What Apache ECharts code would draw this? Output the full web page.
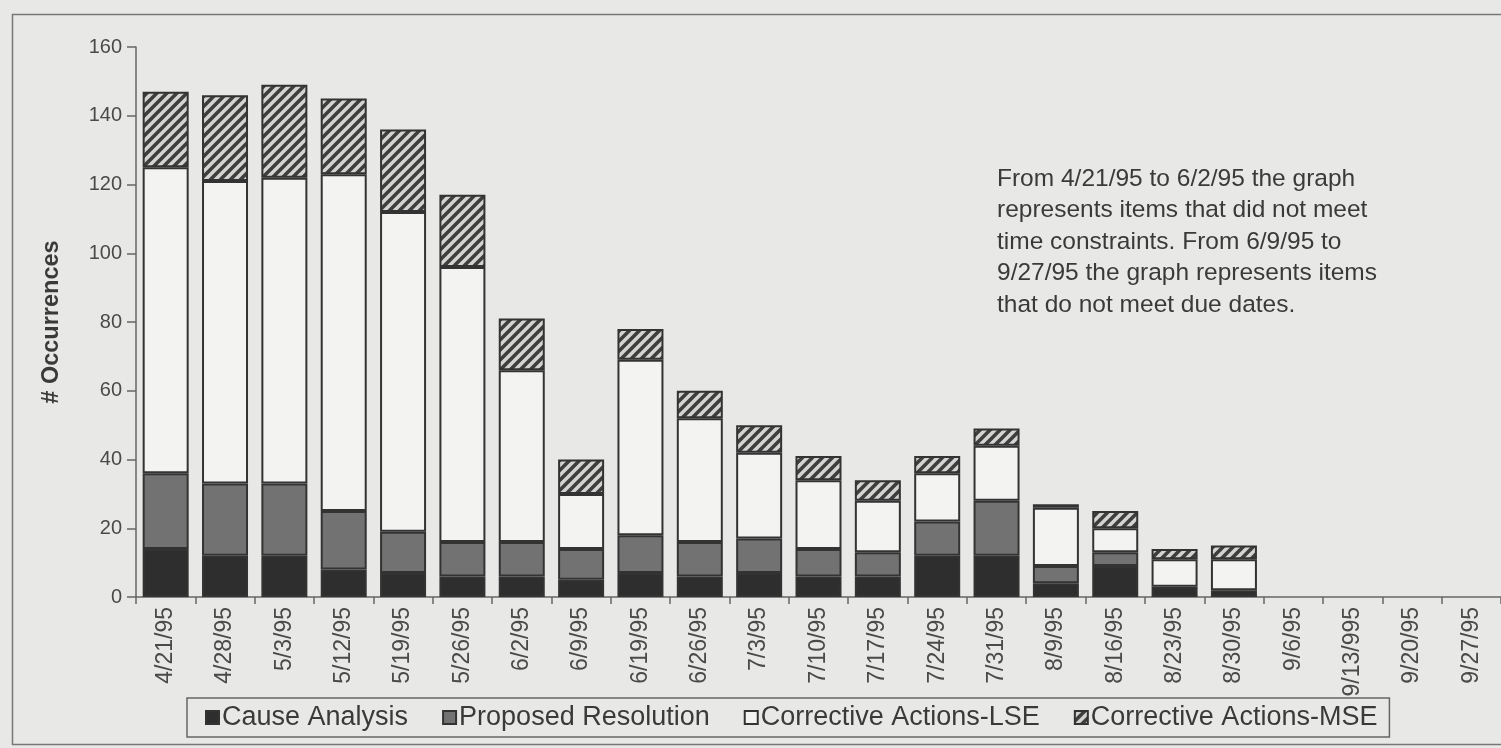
<!DOCTYPE html>
<html>
<head>
<meta charset="utf-8">
<script src="https://cdn.jsdelivr.net/npm/echarts@6/dist/echarts.min.js"></script>
<style>
  html, body { margin: 0; padding: 0; background: #e8e8e6; }
  #chart { width: 1501px; height: 748px; }
</style>
</head>
<body>
<div id="chart"></div>
<script>
// ---- data ----
const categories = ['4/21/95','4/28/95','5/3/95','5/12/95','5/19/95','5/26/95','6/2/95','6/9/95','6/19/95','6/26/95','7/3/95','7/10/95','7/17/95','7/24/95','7/31/95','8/9/95','8/16/95','8/23/95','8/30/95','9/6/95','9/13/995','9/20/95','9/27/95'];
const causeAnalysis      = [14,12,12, 8, 7, 6, 6, 5, 7, 6, 7, 6, 6,12,12, 4, 9, 3, 2, 0, 0, 0, 0];
const proposedResolution = [22,21,21,17,12,10,10, 9,11,10,10, 8, 7,10,16, 5, 4, 0, 0, 0, 0, 0, 0];
const correctiveLSE      = [89,88,89,98,93,80,50,16,51,36,25,20,15,14,16,17, 7, 8, 9, 0, 0, 0, 0];
const correctiveMSE      = [22,25,27,22,24,21,15,10, 9, 8, 8, 7, 6, 5, 5, 1, 5, 3, 4, 0, 0, 0, 0];
const seriesNames = ['Cause Analysis','Proposed Resolution','Corrective Actions-LSE','Corrective Actions-MSE'];
const yTicks = { min: 0, max: 160, interval: 20 };
const yTitle = '# Occurrences';
const note = 'From 4/21/95 to 6/2/95 the graph\nrepresents items that did not meet\ntime constraints. From 6/9/95 to\n9/27/95 the graph represents items\nthat do not meet due dates.';

// ---- styling helpers ----
function hatch() {
  const c = document.createElement('canvas');
  c.width = 10; c.height = 10;
  const g = c.getContext('2d');
  g.fillStyle = '#d4d4d2'; g.fillRect(0, 0, 10, 10);
  g.strokeStyle = '#3e3e3e'; g.lineWidth = 3.6; g.lineCap = 'square';
  g.beginPath();
  g.moveTo(-2, 2); g.lineTo(2, -2);
  g.moveTo(0, 10); g.lineTo(10, 0);
  g.moveTo(8, 12); g.lineTo(12, 8);
  g.stroke();
  return { image: c, repeat: 'repeat' };
}
const nz = arr => arr.map(v => v === 0 ? '-' : v);
const FONT = "'Liberation Sans', Arial, sans-serif";
const border = { borderColor: '#333', borderWidth: 2 };

const chart = echarts.init(document.getElementById('chart'), null, { renderer: 'canvas' });
const fills = ['#2e2e2e', '#727272', '#f3f3f1', hatch()];
const dataSets = [causeAnalysis, proposedResolution, correctiveLSE, correctiveMSE];

chart.setOption({
  backgroundColor: '#e8e8e6',
  animation: false,
  grid: { left: 136, top: 47, width: 1378, height: 550, containLabel: false },
  legend: {
    left: 187, top: 698,
    data: seriesNames,
    icon: 'rect', itemWidth: 13, itemHeight: 13, itemGap: 34,
    padding: [6, 12, 6, 18],
    borderColor: '#666', borderWidth: 1.5,
    textStyle: { fontFamily: FONT, fontSize: 27, color: '#3a3a3a', padding: [0, 0, 0, -2] }
  },
  xAxis: {
    type: 'category',
    data: categories,
    axisLine: { lineStyle: { color: '#666', width: 1.5 } },
    axisTick: { show: true, length: 7, lineStyle: { color: '#666', width: 1.5 } },
    axisLabel: { rotate: 90, margin: 10, interval: 0, fontFamily: FONT, fontSize: 23, color: '#4a4a4a' }
  },
  yAxis: {
    type: 'value',
    min: yTicks.min, max: yTicks.max, interval: yTicks.interval,
    name: yTitle, nameLocation: 'middle', nameGap: 72, nameRotate: 90,
    nameTextStyle: { fontFamily: FONT, fontSize: 23.5, fontWeight: 'bold', color: '#3a3a3a' },
    axisLine: { show: true, lineStyle: { color: '#666', width: 1.5 } },
    axisTick: { show: true, length: 9, lineStyle: { color: '#666', width: 1.5 } },
    axisLabel: { margin: 14, fontFamily: FONT, fontSize: 20, color: '#4a4a4a' },
    splitLine: { show: false }
  },
  graphic: [
    { type: 'rect', left: 10, top: 12, shape: { width: 1600, height: 730 }, silent: true,
      style: { fill: null, stroke: '#777', lineWidth: 1.5 } },
    { type: 'text', left: 997, top: 163, silent: true,
      style: { text: note, fontFamily: FONT, fontSize: 24.5, lineHeight: 31.5, fill: '#3a3a3a' } }
  ],
  series: seriesNames.map((name, i) => ({
    name, type: 'bar', stack: 'all', barWidth: 46,
    itemStyle: Object.assign({ color: fills[i] }, border),
    data: nz(dataSets[i])
  }))
});
</script>
</body>
</html>
